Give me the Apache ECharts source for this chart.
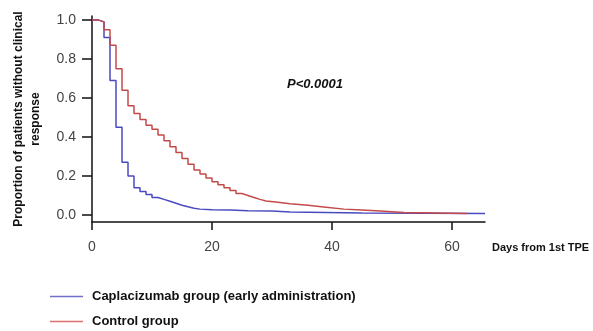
<!DOCTYPE html>
<html>
<head>
<meta charset="utf-8">
<script src="https://cdn.jsdelivr.net/npm/echarts@6/dist/echarts.min.js"></script>
<style>
  html, body { margin: 0; padding: 0; background: #fff; }
  #chart { width: 593px; height: 331px; }
</style>
</head>
<body>
<div id="chart"></div>
<script>
// 天数 / 生存比例
var caplaDays = [0, 1, 2, 3, 4, 5, 6, 7, 8, 9, 10, 11, 12, 13, 14, 15, 16, 17, 18, 20, 23, 26, 30, 33, 45, 65.5];
var caplaVals = [1, 0.99, 0.91, 0.69, 0.45, 0.27, 0.2, 0.14, 0.12, 0.105, 0.09, 0.08, 0.07, 0.06, 0.05, 0.042, 0.035, 0.03, 0.027, 0.025, 0.022, 0.02, 0.015, 0.01, 0.008, 0.008];

var ctrlDays = [0, 1, 2, 3, 4, 5, 6, 7, 8, 9, 10, 11, 12, 13, 14, 15, 16, 17, 18, 19, 20, 21, 22, 23, 24, 25, 26, 27, 28, 29, 31, 33, 36, 39, 42, 45, 48, 52, 62.5];
var ctrlVals = [1, 0.99, 0.95, 0.87, 0.75, 0.64, 0.56, 0.52, 0.49, 0.46, 0.44, 0.41, 0.38, 0.35, 0.32, 0.29, 0.26, 0.23, 0.21, 0.19, 0.17, 0.155, 0.14, 0.125, 0.11, 0.1, 0.09, 0.08, 0.072, 0.065, 0.058, 0.05, 0.04, 0.03, 0.025, 0.02, 0.013, 0.008, 0.008];

var xTicks = [0, 20, 40, 60];
var yTicks = [0, 0.2, 0.4, 0.6, 0.8, 1.0];

var seriesNames = ['Caplacizumab group (early administration)', 'Control group'];

function toPairs(xs, ys) {
    var out = [];
    for (var i = 0; i < xs.length; i++) {
        out.push([xs[i], ys[i]]);
    }
    return out;
}

var chart = echarts.init(document.getElementById('chart'));

var option = {
    animation: false,
    textStyle: { fontFamily: 'Liberation Sans' },
    grid: { left: 92, right: 108, top: 16, bottom: 109, outerBoundsMode: 'none', containLabel: false },
    xAxis: {
        type: 'value',
        min: 0,
        max: 65.5,
        name: 'Days from 1st TPE',
        nameLocation: 'end',
        nameGap: 7,
        nameTextStyle: {
            color: '#111', fontSize: 11, fontWeight: 'bold',
            align: 'left', verticalAlign: 'top', padding: [20, 0, 0, 0]
        },
        axisLine: { onZero: false, lineStyle: { color: '#111', width: 1.5 } },
        axisTick: { length: 8, customValues: xTicks, lineStyle: { color: '#111', width: 1.5 } },
        axisLabel: { customValues: xTicks, color: '#444', fontSize: 14, margin: 18 },
        splitLine: { show: false }
    },
    yAxis: {
        type: 'value',
        min: -0.036,
        max: 1.02,
        name: 'Proportion of patients without clinical\nresponse',
        nameLocation: 'middle',
        nameGap: 48,
        nameTextStyle: { color: '#111', fontSize: 12, fontWeight: 'bold', lineHeight: 17 },
        axisLine: { show: true, lineStyle: { color: '#111', width: 1.5 } },
        axisTick: { show: true, length: 10, customValues: yTicks, lineStyle: { color: '#111', width: 1.5 } },
        axisLabel: {
            customValues: yTicks, color: '#444', fontSize: 14, margin: 16,
            formatter: function (v) { return v.toFixed(1); }
        },
        splitLine: { show: false }
    },
    legend: {
        orient: 'vertical',
        left: 50,
        top: 290,
        padding: 0,
        itemGap: 12,
        itemWidth: 33,
        itemHeight: 1.5,
        icon: 'rect',
        data: [
            { name: seriesNames[0], itemStyle: { color: '#7070cc' } },
            { name: seriesNames[1], itemStyle: { color: '#dd7070' } }
        ],
        textStyle: { color: '#111', fontSize: 13, fontWeight: 'bold', padding: [0, 0, 0, 4] }
    },
    graphic: [{
        type: 'text',
        left: 287,
        top: 78,
        style: { text: 'P<0.0001', font: 'italic bold 13px Liberation Sans', fill: '#111' }
    }],
    series: [
        {
            name: seriesNames[0],
            type: 'line',
            step: 'end',
            showSymbol: false,
            color: '#4a4ac0',
            lineStyle: { width: 1.5 },
            data: toPairs(caplaDays, caplaVals)
        },
        {
            name: seriesNames[1],
            type: 'line',
            step: 'end',
            showSymbol: false,
            color: '#c44a4a',
            lineStyle: { width: 1.5 },
            data: toPairs(ctrlDays, ctrlVals)
        }
    ]
};

chart.setOption(option);
</script>
</body>
</html>
